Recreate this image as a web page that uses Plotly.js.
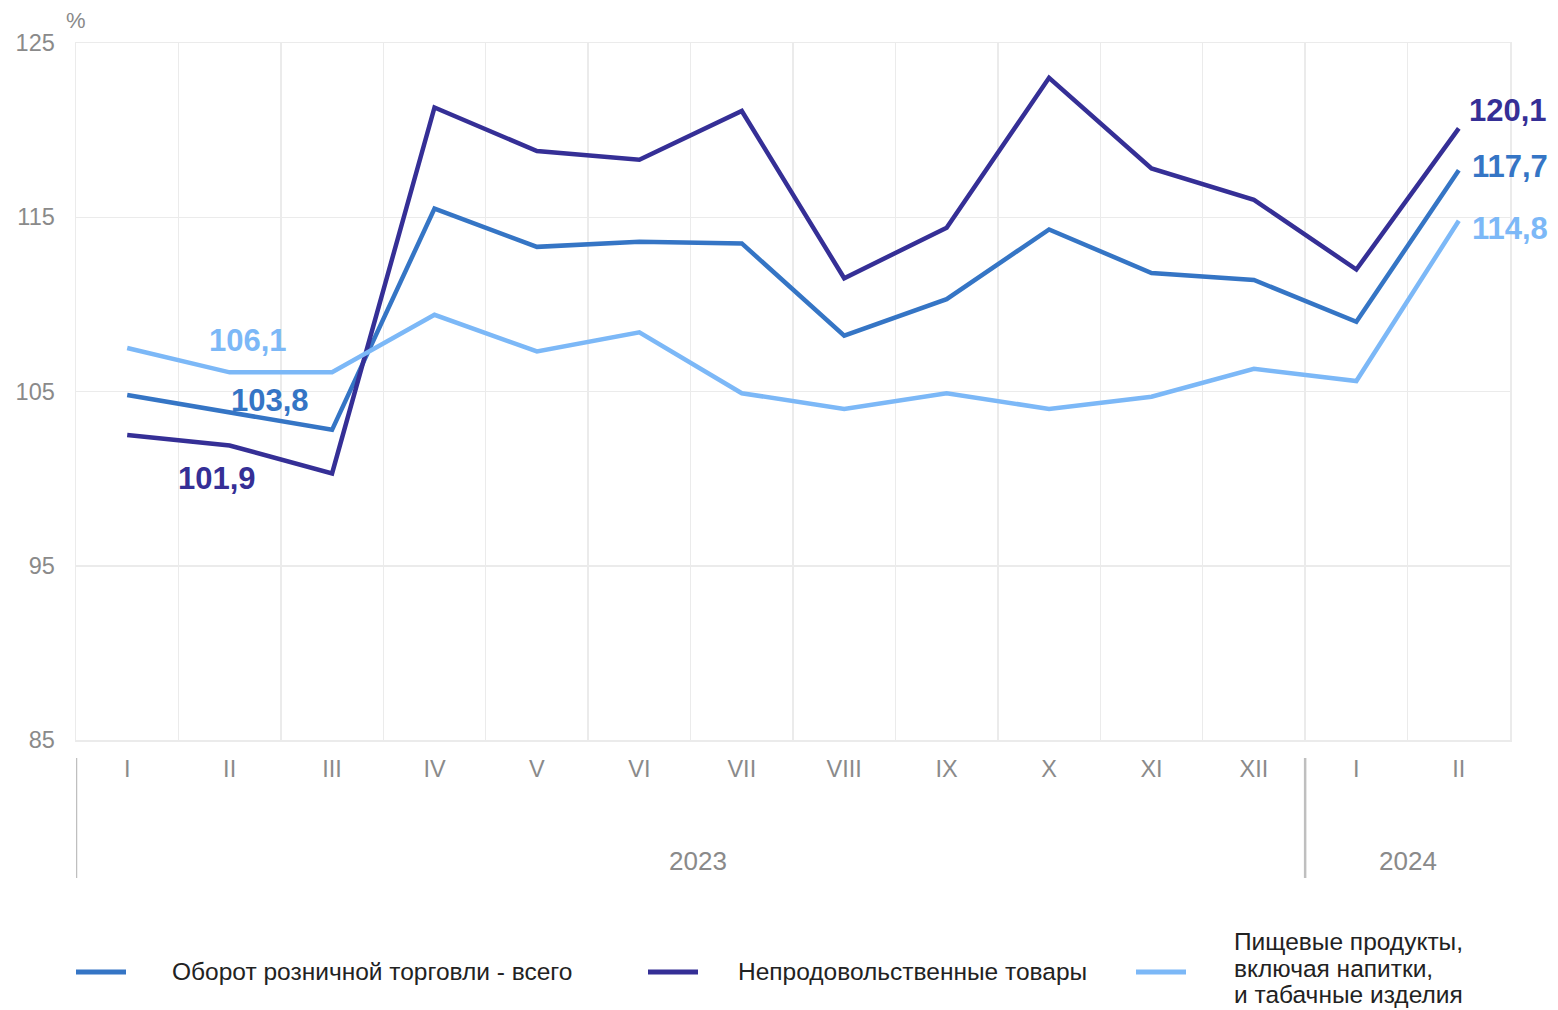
<!DOCTYPE html>
<html>
<head>
<meta charset="utf-8">
<script src="https://cdn.plot.ly/plotly-3.0.1.min.js"></script>
<style>html,body{margin:0;padding:0;background:#fff;}#chart{width:1558px;height:1010px;}</style>
</head>
<body>
<div id="chart"></div>
<script>
const monthLabels = ['I','II','III','IV','V','VI','VII','VIII','IX','X','XI','XII','I','II'];
const yearLabels = ['2023','2024'];
const seriesNames = ['Оборот розничной торговли - всего','Непродовольственные товары','Пищевые продукты,<br>включая напитки,<br>и табачные изделия'];
const totalTurnover = [104.8,103.8,102.8,115.5,113.3,113.6,113.5,108.2,110.3,114.3,111.8,111.4,109.0,117.7];
const nonFood = [102.5,101.9,100.3,121.3,118.8,118.3,121.1,111.5,114.4,123.0,117.8,116.0,112.0,120.1];
const food = [107.5,106.1,106.1,109.4,107.3,108.4,104.9,104.0,104.9,104.0,104.7,106.3,105.6,114.8];

const colors = ['#3575c5','#352f96','#7cb8f7'];
const xs = monthLabels.map((_, i) => i);
const fmt = v => v.toFixed(1).replace('.', ',');
const FAM = 'Liberation Sans, Arial, sans-serif';

const traces = [totalTurnover, nonFood, food].map((s, k) => ({
  x: xs, y: s, type: 'scatter', mode: 'lines', name: seriesNames[k],
  line: {color: colors[k], width: 4.5}, showlegend: false, hoverinfo: 'skip'
}));

const gridC = '#ebebeb';
const axisFont = {family: FAM, size: 23.5, color: '#8a8a8a'};
const last = xs.length - 1;

const annotations = [
  {x: 1.18, y: 107.9, text: '<b>' + fmt(food[1]) + '</b>', font: {color: colors[2]}},
  {x: 1.39, y: 104.5, text: '<b>' + fmt(totalTurnover[1]) + '</b>', font: {color: colors[0]}},
  {x: 0.88, y: 100.0, text: '<b>' + fmt(nonFood[1]) + '</b>', font: {color: colors[1]}},
  {x: 13.08, y: 121.15, xanchor: 'left', text: '<b>' + fmt(nonFood[last]) + '</b>', font: {color: colors[1]}},
  {x: 13.11, y: 117.94, xanchor: 'left', text: '<b>' + fmt(totalTurnover[last]) + '</b>', font: {color: colors[0]}},
  {x: 13.11, y: 114.38, xanchor: 'left', text: '<b>' + fmt(food[last]) + '</b>', font: {color: colors[2]}}
].map(a => Object.assign({xref: 'x', yref: 'y', showarrow: false, xanchor: 'center', yanchor: 'middle'}, a,
  {font: Object.assign({family: FAM, size: 31}, a.font)}));

// "%" unit label
annotations.push({xref: 'paper', yref: 'paper', x: 0, y: 1.0, yshift: 23, xanchor: 'center', yanchor: 'middle',
  text: '%', showarrow: false, font: Object.assign({}, axisFont, {size: 22})});

// Year labels
annotations.push({xref: 'x', yref: 'paper', x: 5.57, y: 0, yshift: -121, text: yearLabels[0], showarrow: false,
  xanchor: 'center', yanchor: 'middle', font: Object.assign({}, axisFont, {size: 26})});
annotations.push({xref: 'x', yref: 'paper', x: 12.5, y: 0, yshift: -121, text: yearLabels[1], showarrow: false,
  xanchor: 'center', yanchor: 'middle', font: Object.assign({}, axisFont, {size: 26})});

// Legend (custom)
const legendY = 972; // px from top
const legendItems = [
  {x0: 76, x1: 126, tx: 171},
  {x0: 648, x1: 698, tx: 737},
  {x0: 1136, x1: 1186, tx: 1233}
];
const toPY = px => (740 - px) / 697;
const toPX = px => (px - 76) / 1434;
const shapes = [];
legendItems.forEach((it, k) => {
  shapes.push({type: 'line', xref: 'paper', yref: 'paper',
    x0: toPX(it.x0), x1: toPX(it.x1), y0: toPY(legendY), y1: toPY(legendY),
    line: {color: colors[k], width: 5}});
  const lines = seriesNames[k].split('<br>');
  const spacing = 27;
  const top = lines.length > 1 ? 941 : legendY;
  lines.forEach((ln, j) => {
    annotations.push({xref: 'paper', yref: 'paper', x: toPX(it.tx), y: toPY(top + j * spacing),
      xanchor: 'left', yanchor: 'middle', align: 'left', showarrow: false, text: ln, borderpad: 0,
      font: {family: FAM, size: 24.5, color: '#222'}});
  });
});

// Year separators below axis
[-0.5, 11.5, 13.52].forEach(v => {
  shapes.push({type: 'line', xref: 'x', yref: 'paper', x0: v, x1: v,
    y0: toPY(758), y1: toPY(878), line: {color: '#bfbfbf', width: 2.5}});
});

const layout = {
  width: 1558, height: 1010,
  margin: {l: 76, r: 48, t: 43, b: 270},
  paper_bgcolor: '#fff', plot_bgcolor: '#fff',
  xaxis: {
    range: [-0.5, 13.5], tickmode: 'array', tickvals: xs, ticktext: monthLabels,
    showgrid: false, zeroline: false, ticks: 'outside', ticklen: 7, tickcolor: 'rgba(0,0,0,0)',
    tickfont: axisFont, showline: true, linecolor: gridC, linewidth: 1.5, mirror: true,
    minor: {tick0: -0.5, dtick: 1, showgrid: true, gridcolor: gridC, gridwidth: 1.5, ticks: ''},
    fixedrange: true
  },
  yaxis: {
    range: [85, 125], tickmode: 'array', tickvals: [85, 95, 105, 115, 125],
    showgrid: true, gridcolor: gridC, gridwidth: 1.5, zeroline: false,
    ticks: 'outside', ticklen: 15, tickcolor: 'rgba(0,0,0,0)', tickfont: axisFont,
    showline: true, linecolor: gridC, linewidth: 1.5, mirror: true, fixedrange: true
  },
  annotations: annotations,
  shapes: shapes,
  showlegend: false
};

Plotly.newPlot('chart', traces, layout, {displayModeBar: false, staticPlot: true});
</script>
</body>
</html>
